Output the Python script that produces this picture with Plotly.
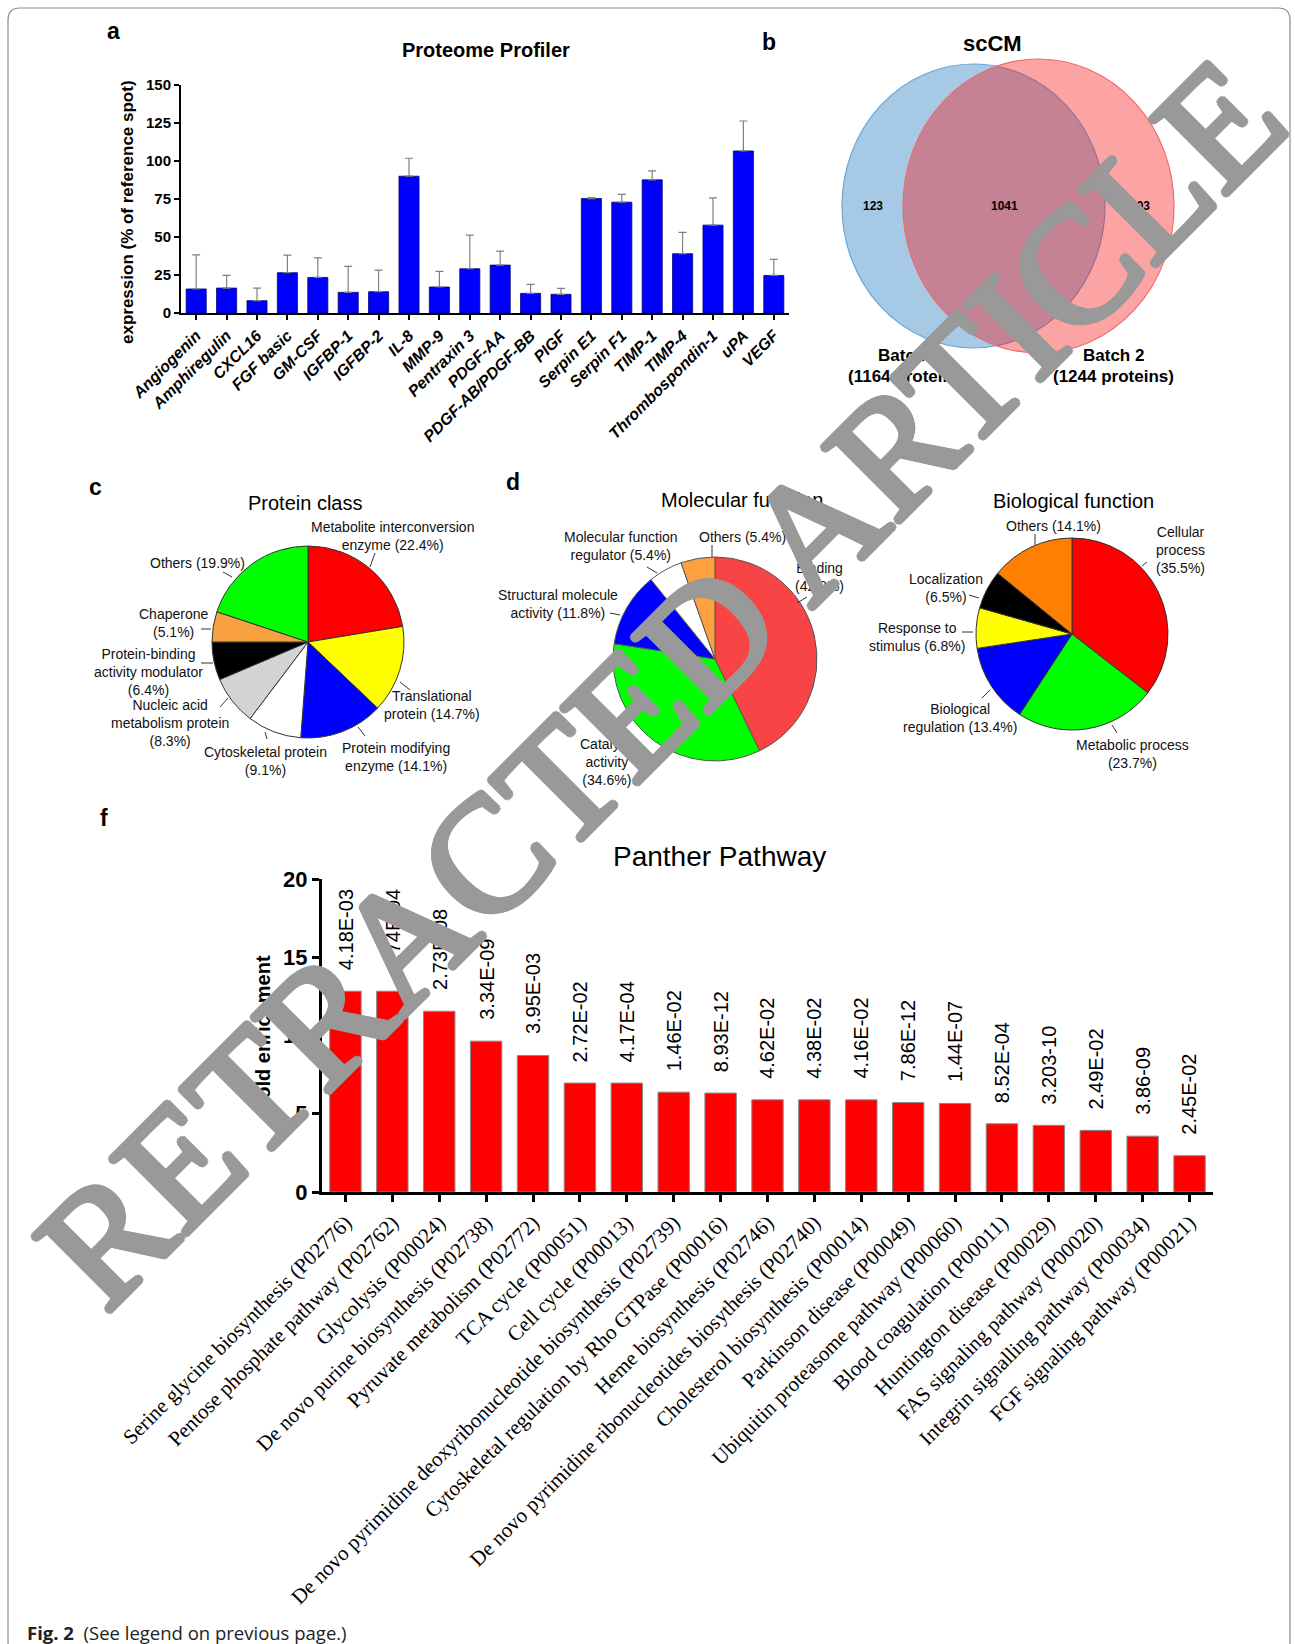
import plotly.graph_objects as go

W, H = 1295, 1644
SANS = "Liberation Sans"
SERIF = "Liberation Serif"

# ---------------- data ----------------
# (a) Proteome Profiler cytokine array
cytokines = ["Angiogenin", "Amphiregulin", "CXCL16", "FGF basic", "GM-CSF", "IGFBP-1",
             "IGFBP-2", "IL-8", "MMP-9", "Pentraxin 3", "PDGF-AA", "PDGF-AB/PDGF-BB",
             "PIGF", "Serpin E1", "Serpin F1", "TIMP-1", "TIMP-4", "Thrombospondin-1",
             "uPA", "VEGF"]
expression = [15.8, 16.4, 8.1, 26.5, 23.4, 13.6, 14.0, 90.0, 17.1, 29.1, 31.5, 12.9,
              12.3, 75.3, 72.9, 87.6, 39.0, 57.8, 106.6, 24.7]
expression_sd = [22.5, 8.3, 8.3, 11.6, 12.9, 17.1, 14.2, 11.8, 10.3, 22.1, 9.2, 5.9,
                 3.9, 0.7, 5.1, 5.9, 14.0, 18.0, 19.7, 10.6]

# (b) scCM proteins identified in two batches
batch_names = ["Batch 1", "Batch 2"]
batch_totals = [1164, 1244]
shared_proteins = 1041

# (c) protein class
class_labels = ["Metabolite interconversion<br>enzyme", "Translational<br>protein",
                "Protein modifying<br>enzyme", "Cytoskeletal protein<br>",
                "Nucleic acid<br>metabolism protein<br>", "Protein-binding<br>activity modulator<br>",
                "Chaperone<br>", "Others"]
class_pct = [22.4, 14.7, 14.1, 9.1, 8.3, 6.4, 5.1, 19.9]
class_colors = ["#ff0000", "#ffff00", "#0000ff", "#ffffff", "#d3d3d3", "#000000", "#f9a040", "#00ff00"]

# (d) molecular function
mf_labels = ["Binding<br>", "Catalytic<br>activity<br>", "Structural molecule<br>activity",
             "Molecular function<br>regulator", "Others"]
mf_pct = [42.8, 34.6, 11.8, 5.4, 5.4]
mf_colors = ["#f84444", "#00ff00", "#0000ff", "#ffffff", "#ffa040"]

# biological function
bf_labels = ["Cellular<br>process<br>", "Metabolic process<br>", "Biological<br>regulation",
             "Response to<br>stimulus", "Localization<br>", "Others"]
bf_pct = [35.5, 23.7, 13.4, 6.8, 6.5, 14.1]
bf_colors = ["#ff0000", "#00ff00", "#0000ff", "#ffff00", "#000000", "#ff8000"]

# (f) Panther pathway enrichment
pathways = ["Serine glycine biosynthesis (P02776)", "Pentose phosphate pathway (P02762)",
            "Glycolysis (P00024)", "De novo purine biosynthesis (P02738)",
            "Pyruvate metabolism (P02772)", "TCA cycle (P00051)", "Cell cycle (P00013)",
            "De novo pyrimidine deoxyribonucleotide biosynthesis (P02739)",
            "Cytoskeletal regulation by Rho GTPase (P00016)", "Heme biosynthesis (P02746)",
            "De novo pyrimidine ribonucleotides biosythesis (P02740)",
            "Cholesterol biosynthesis (P00014)", "Parkinson disease (P00049)",
            "Ubiquitin proteasome pathway (P00060)", "Blood coagulation (P00011)",
            "Huntington disease (P00029)", "FAS signaling pathway (P00020)",
            "Integrin signalling pathway (P00034)", "FGF signaling pathway (P00021)"]
fold_enrichment = [12.83, 12.83, 11.55, 9.64, 8.72, 6.96, 6.96, 6.38, 6.32, 5.89, 5.89,
                   5.89, 5.72, 5.66, 4.36, 4.26, 3.94, 3.57, 2.32]
p_values = ["4.18E-03", "1.74E-04", "2.73E-08", "3.34E-09", "3.95E-03", "2.72E-02",
            "4.17E-04", "1.46E-02", "8.93E-12", "4.62E-02", "4.38E-02", "4.16E-02",
            "7.86E-12", "1.44E-07", "8.52E-04", "3.203-10", "2.49E-02", "3.86-09", "2.45E-02"]


# ---------------- helpers (pixel -> paper) ----------------
def fx(x):
    return x / W


def fy(y):
    return 1 - y / H


annotations = []
shapes = []


def label(x, y, s, size, family=SANS, color="black", xanchor="center", yanchor="middle",
          angle=0, align="center", shadow=None):
    font = dict(family=family, size=size, color=color)
    if shadow:
        font["shadow"] = shadow
    annotations.append(dict(xref="paper", yref="paper", x=fx(x), y=fy(y), text=s,
                            showarrow=False, xanchor=xanchor, yanchor=yanchor,
                            textangle=angle, align=align, font=font))


def seg(x0, y0, x1, y1, color="#333333", width=1):
    shapes.append(dict(type="line", xref="paper", yref="paper", x0=fx(x0), y0=fy(y0),
                       x1=fx(x1), y1=fy(y1), line=dict(color=color, width=width)))


fig = go.Figure()

# ---------------- (a) bar chart ----------------
fig.add_trace(go.Bar(
    x=cytokines, y=expression, xaxis="x", yaxis="y",
    marker=dict(color="#0000ff", line=dict(color="#00007a", width=0.8)),
    width=0.66,
    error_y=dict(type="data", array=expression_sd, arrayminus=[0] * len(expression_sd),
                 symmetric=False, color="#808080", thickness=1.2, width=4),
    hoverinfo="skip", showlegend=False))

# ---------------- (f) bar chart ----------------
fig.add_trace(go.Bar(
    x=pathways, y=fold_enrichment, xaxis="x2", yaxis="y2",
    marker=dict(color="#ff0000", line=dict(color="#8a8a8a", width=1)),
    width=0.67, hoverinfo="skip", showlegend=False))

for name, val, p in zip(pathways, fold_enrichment, p_values):
    annotations.append(dict(xref="x2", yref="y2", x=name, y=val, text=p, showarrow=False,
                            textangle=-90, xanchor="center", yanchor="bottom", yshift=19,
                            font=dict(family=SANS, size=20, color="black")))


# ---------------- pies ----------------
def pie(values, colors, cx, cy, r, line_color):
    fig.add_trace(go.Pie(
        values=values, sort=False, direction="clockwise", rotation=0,
        marker=dict(colors=colors, line=dict(color=line_color, width=1)),
        textinfo="none", hoverinfo="skip", showlegend=False,
        domain=dict(x=[fx(cx - r), fx(cx + r)], y=[fy(cy + r), fy(cy - r)])))


pie(class_pct, class_colors, 308, 642, 96, "#333333")
pie(mf_pct, mf_colors, 715, 659, 102, "#555555")
pie(bf_pct, bf_colors, 1072, 634, 96, "#333333")


def pie_labels(labels, pct, spots, size=14):
    for lab, v, (x, y, lx0, ly0, lx1, ly1) in zip(labels, pct, spots):
        sep = "" if lab.endswith("<br>") else " "
        label(x, y, f"{lab}{sep}({v}%)", size, color="#111111")
        seg(lx0, ly0, lx1, ly1)


# label centre and leader line for every slice
pie_labels(class_labels, class_pct, [
    (392, 536, 375, 553, 370, 567),
    (432, 705, 400, 682, 410, 690),
    (396, 757, 358, 727, 365, 736),
    (265, 761, 265, 732, 267, 739),
    (170, 723, 220, 707, 228, 698),
    (148, 672, 201, 663, 213, 663),
    (173, 623, 201, 629, 211, 629),
    (198, 563, 223, 572, 232, 577),
])
pie_labels(mf_labels, mf_pct, [
    (820, 577, 797, 603, 807, 597),
    (607, 762, 620, 730, 628, 722),
    (558, 604, 610, 613, 620, 615),
    (621, 546, 647, 567, 657, 573),
    (742, 537, 712, 545, 712, 557),
])
pie_labels(bf_labels, bf_pct, [
    (1180, 550, 1142, 566, 1147, 562),
    (1132, 754, 1112, 725, 1117, 733),
    (960, 718, 982, 698, 990, 690),
    (917, 637, 962, 632, 973, 632),
    (946, 588, 969, 595, 979, 598),
    (1053, 526, 1035, 534, 1035, 545),
])

# ---------------- (b) Venn ----------------
shapes.append(dict(type="circle", xref="paper", yref="paper", layer="above",
                   x0=fx(842), x1=fx(1105), y0=fy(348), y1=fy(64),
                   fillcolor="rgb(166,201,230)", line=dict(color="#6aa6d4", width=1.2)))
shapes.append(dict(type="circle", xref="paper", yref="paper", layer="above",
                   x0=fx(903), x1=fx(1174), y0=fy(353), y1=fy(59),
                   fillcolor="rgba(247,17,17,0.38)", line=dict(color="#f06a6a", width=1.2)))
only_1 = batch_totals[0] - shared_proteins
only_2 = batch_totals[1] - shared_proteins
label(873, 206, f"<b>{only_1}</b>", 12)
label(1004, 206, f"<b>{shared_proteins}</b>", 12)
label(1140, 206, f"<b>{only_2}</b>", 12)
for cx, name, tot in zip([908, 1113], batch_names, batch_totals):
    label(cx, 355, f"<b>{name}</b>", 17)
    label(cx, 377, f"<b>({tot} proteins)</b>", 17)

# ---------------- titles and panel letters ----------------
label(486, 50, "<b>Proteome Profiler</b>", 20)
label(993, 44, "<b>scCM</b>", 22)
label(305, 503, "Protein class", 20)
label(742, 500, "Molecular function", 20)
label(1073, 501, "Biological function", 20)
label(719, 856, "Panther Pathway", 28)
for ch, x, y in [("a", 113, 31), ("b", 769, 42), ("c", 95, 487), ("d", 513, 482), ("f", 104, 818)]:
    label(x, y, f"<b>{ch}</b>", 23)

# axis titles
label(128, 212, "<b>expression (% of reference spot)</b>", 17, angle=-90)
label(263, 1033, "<b>Fold enrichment</b>", 20, angle=-90)

# caption
label(25, 1632, "<b>Fig. 2</b>  (See legend on previous page.)", 18.5, family="Open Sans",
      color="#222222", xanchor="left")

# page frame with rounded corners
x0, y0, x1, y1, r = 8, 8, 1290, 1654, 12
pts = [("M", x0 + r, y0), ("L", x1 - r, y0), ("Q", x1, y0, x1, y0 + r), ("L", x1, y1 - r),
       ("Q", x1, y1, x1 - r, y1), ("L", x0 + r, y1), ("Q", x0, y1, x0, y1 - r),
       ("L", x0, y0 + r), ("Q", x0, y0, x0 + r, y0)]
path = ""
for p in pts:
    cmd, coords = p[0], p[1:]
    path += cmd + " " + " ".join(
        f"{fx(coords[i]):.5f},{fy(coords[i + 1]):.5f}" for i in range(0, len(coords), 2)) + " "
shapes.append(dict(type="path", xref="paper", yref="paper", path=path + "Z",
                   line=dict(color="#8c8c8c", width=1.2)))

# retraction watermark on top of everything (heavier strokes via a tight outline)
g = "#999999"
heavy = ", ".join(f"{dx}px {dy}px 0 {g}" for dx, dy in
                  [(3, 0), (-3, 0), (0, 3), (0, -3), (2, 2), (-2, -2), (2, -2), (-2, 2)])
label(660, 682, "RETRACTED ARTICLE", 164, family=SERIF, color=g, angle=-45, shadow=heavy)

# ---------------- axes ----------------
axis_common = dict(showgrid=False, zeroline=False, showline=True, linecolor="black",
                   ticks="outside", tickcolor="black", automargin=False)

fig.update_layout(
    width=W, height=H, autosize=False, template="none",
    margin=dict(l=0, r=0, t=0, b=0, pad=0),
    paper_bgcolor="white", plot_bgcolor="rgba(0,0,0,0)",
    bargap=0.33, showlegend=False,
    xaxis=dict(domain=[fx(181), fx(789)], anchor="y", type="category", tickangle=-45,
               linewidth=2, tickwidth=1.5, ticklen=5,
               tickfont=dict(family=SANS, size=16, color="black", weight="bold", style="italic"),
               **axis_common),
    yaxis=dict(domain=[fy(313), fy(85)], anchor="x", range=[0, 150], tick0=0, dtick=25,
               linewidth=2, tickwidth=1.5, ticklen=5,
               tickfont=dict(family=SANS, size=15, color="black", weight="bold"),
               **axis_common),
    xaxis2=dict(domain=[fx(322), fx(1213)], anchor="y2", type="category", tickangle=-45,
                linewidth=3, tickwidth=2.5, ticklen=7,
                tickfont=dict(family=SERIF, size=21, color="black"),
                **axis_common),
    yaxis2=dict(domain=[fy(1192), fy(879)], anchor="x2", range=[0, 20], tick0=0, dtick=5,
                linewidth=3, tickwidth=2.5, ticklen=7,
                tickfont=dict(family=SANS, size=22, color="black", weight="bold"),
                **axis_common),
    annotations=annotations,
    shapes=shapes,
)

fig.write_html("out.html", post_script="document.body.style.margin='0';")
